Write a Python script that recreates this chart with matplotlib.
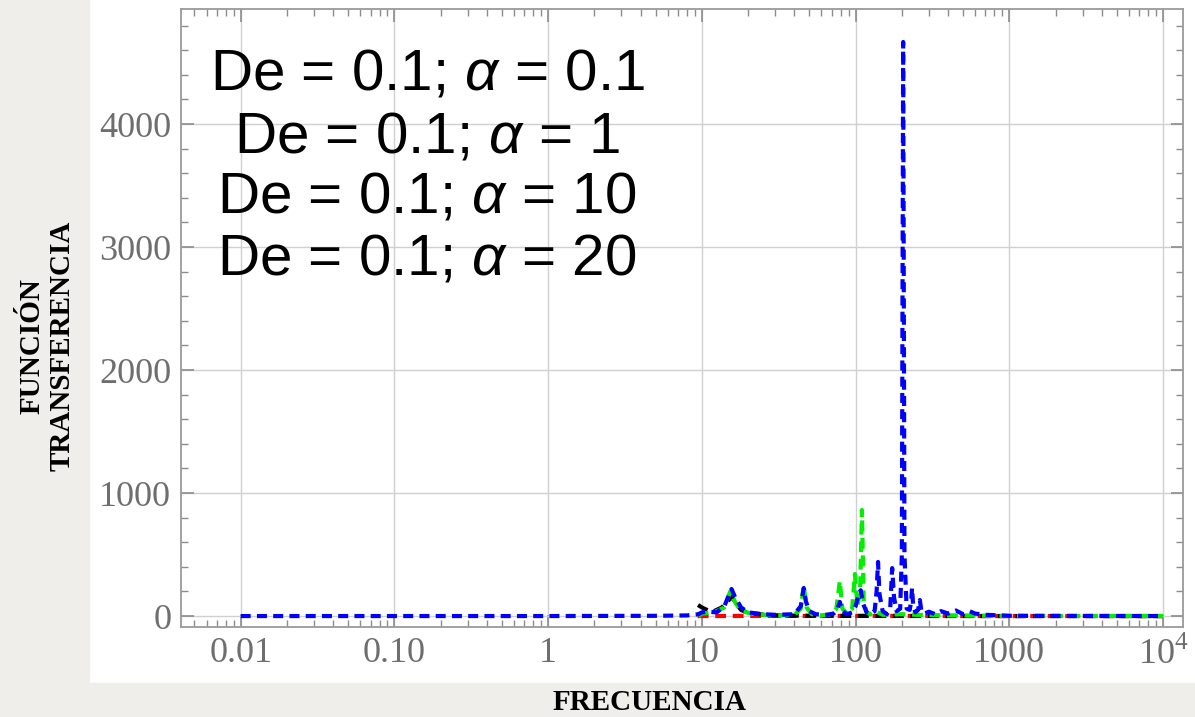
import matplotlib
matplotlib.use("Agg")
import matplotlib.pyplot as plt
from matplotlib.patches import Rectangle
from matplotlib.ticker import FixedLocator, LogLocator, MultipleLocator, NullFormatter

plt.rcParams['mathtext.fontset'] = 'custom'
plt.rcParams['mathtext.rm'] = 'Liberation Serif'
plt.rcParams['mathtext.it'] = 'Liberation Sans:italic'

# --- datos ---
# alpha = 0.1 (rojo)
f_red = [9.4, 20, 100, 1000, 10000]
h_red = [0, 1, 1, 0, 0]

# alpha = 1 (negro)
f_black = [9.45, 10, 11, 12, 13.5, 15, 15.6, 16.5, 18, 20, 25, 30, 40, 60, 100, 200, 1000, 10000]
h_black = [90, 70, 45, 40, 70, 130, 160, 110, 50, 25, 12, 6, 3, 2, 1, 1, 0, 0]

# alpha = 10 (verde)
f_green = [9.5, 10, 12, 14, 15.3, 16.5, 18, 22, 30, 40, 44, 46, 48, 52, 60, 70, 75, 79, 82, 88,
           95, 99, 103, 107, 110, 113, 118, 125, 135, 150, 200, 250, 300, 400, 600, 1000, 10000]
h_green = [0, 20, 30, 70, 200, 110, 40, 15, 5, 10, 60, 250, 70, 15, 5, 15, 60, 285, 60, 20,
           60, 341, 80, 200, 862, 120, 30, 15, 40, 10, 15, 10, 8, 5, 3, 1, 0]

# alpha = 20 (azul)
f_blue = [0.01, 1, 5, 8, 9.5, 10, 11, 12.5, 14, 15, 15.6, 16.5, 18, 20, 25, 30, 40, 44, 46, 47.5,
          50, 55, 65, 72, 76, 79, 82, 88, 95, 100, 104, 108, 112, 118, 125, 133, 137, 140, 143, 150,
          160, 168, 173, 178, 185, 195, 200, 204, 208, 215, 225, 230, 233, 237, 245, 255, 262, 268,
          280, 300, 330, 360, 400, 450, 500, 550, 600, 700, 1000, 10000]
h_blue = [0, 0, 2, 5, 15, 30, 35, 30, 80, 170, 220, 150, 70, 30, 15, 10, 15, 80, 228, 120,
          40, 15, 10, 20, 50, 115, 40, 15, 30, 80, 160, 210, 100, 30, 15, 40, 200, 440, 180, 40,
          15, 60, 390, 150, 40, 60, 500, 4667, 500, 60, 50, 120, 228, 80, 30, 50, 130, 40,
          20, 35, 15, 40, 20, 45, 15, 40, 20, 10, 2, 0]

legend_lines = ["De = 0.1; $\\mathit{\\alpha}$ = 0.1",
                "De = 0.1; $\\mathit{\\alpha}$ = 1",
                "De = 0.1; $\\mathit{\\alpha}$ = 10",
                "De = 0.1; $\\mathit{\\alpha}$ = 20"]

xtick_pos = [0.01, 0.1, 1, 10, 100, 1000, 10000]
xtick_lab = ["0.01", "0.10", "1", "10", "100", "1000", "$10^4$"]
ytick_pos = [0, 1000, 2000, 3000, 4000]

fig = plt.figure(figsize=(11.95, 7.17), dpi=100)

# fondo tipo papel a la izquierda y abajo
paper = '#efeeea'
fig.patches.append(Rectangle((0, 0), 89 / 1195, 1, transform=fig.transFigure, color=paper, zorder=0))
fig.patches.append(Rectangle((0, 0), 1, 34 / 717, transform=fig.transFigure, color=paper, zorder=0))

ax = fig.add_axes([181 / 1195, 1 - 627 / 717, 1002 / 1195, 618 / 717])

lw = 3.0
ax.plot(f_red, h_red, color='#ff0000', lw=lw, dashes=(2.6, 1.6), zorder=3)
ax.plot(f_black, h_black, color='black', lw=lw, dashes=(2.6, 1.6), zorder=4)
ax.plot(f_green, h_green, color='#00ee00', lw=lw, dashes=(2.6, 1.6), zorder=5)
ax.plot(f_blue, h_blue, color='#0000ff', lw=lw, dashes=(2.4, 1.5), zorder=6)

ax.set_xscale('log')
ax.set_xlim(0.00409, 13490)
ax.set_ylim(-89, 4935)

ax.xaxis.set_major_locator(FixedLocator(xtick_pos))
ax.set_xticklabels(xtick_lab)
ax.xaxis.set_minor_locator(LogLocator(base=10, subs=range(2, 10), numticks=20))
ax.xaxis.set_minor_formatter(NullFormatter())
ax.yaxis.set_major_locator(FixedLocator(ytick_pos))
ax.yaxis.set_minor_locator(MultipleLocator(200))

ax.grid(True, which='major', color='#d0d0d0', lw=1.0, zorder=0)
ax.tick_params(which='both', direction='in', top=True, right=True, colors='#8c8c8c',
               labelcolor='#6e6e6e', labelsize=26)
ax.tick_params(which='major', length=9, width=1.2, pad=7)
ax.tick_params(which='minor', length=5, width=1.0)
for lab in ax.get_xticklabels() + ax.get_yticklabels():
    lab.set_family('Liberation Serif')
for sp in ax.spines.values():
    sp.set_color('#9a9a9a')
    sp.set_linewidth(1.3)

# leyenda en texto grande
ybase = [0.869, 0.7686, 0.670, 0.5696]
for txt, yb in zip(legend_lines, ybase):
    ax.text(0.2455, yb, txt, transform=ax.transAxes, ha='center', va='baseline',
            fontsize=42, family='Liberation Sans', color='black', zorder=10)

fig.text(47 / 1195, 1 - 346 / 717, "FUNCIÓN\nTRANSFERENCIA", rotation=90, ha='center', va='center',
         multialignment='center', fontsize=21, fontweight='bold', family='Liberation Serif',
         linespacing=1.15)
fig.text(650 / 1195, 1 - 702 / 717, "FRECUENCIA", ha='center', va='center',
         fontsize=21, fontweight='bold', family='Liberation Serif')

fig.savefig('out.png', dpi=100)
